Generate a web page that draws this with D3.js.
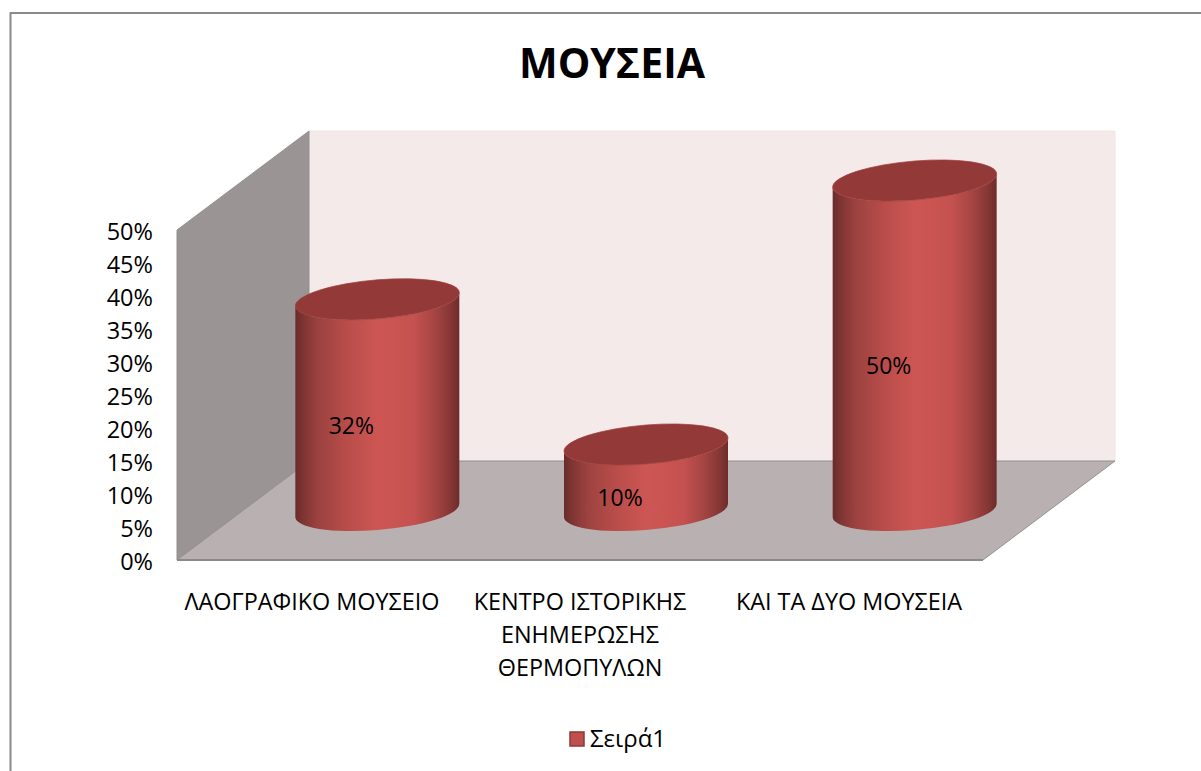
<!DOCTYPE html>
<html><head><meta charset="utf-8">
<script src="https://d3js.org/d3.v7.min.js"></script>
<style>html,body{margin:0;padding:0;background:#fff}svg{display:block}text{font-family:"Open Sans",sans-serif;fill:#000}</style>
</head><body><script>
const categories=[["ΛΑΟΓΡΑΦΙΚΟ ΜΟΥΣΕΙΟ"],["ΚΕΝΤΡΟ ΙΣΤΟΡΙΚΗΣ","ΕΝΗΜΕΡΩΣΗΣ","ΘΕΡΜΟΠΥΛΩΝ"],["ΚΑΙ ΤΑ ΔΥΟ ΜΟΥΣΕΙΑ"]];
const values=[0.32,0.10,0.50];
const valueLabels=["32%","10%","50%"];
const ticks=[0,.05,.10,.15,.20,.25,.30,.35,.40,.45,.50];
const title="ΜΟΥΣΕΙΑ", seriesName="Σειρά1";
const W=1201,H=771,x0=177,x1=983,y0=560,y1=230,dx=132,dy=-99;
const svg=d3.select("body").append("svg").attr("width",W).attr("height",H);
const x=d3.scaleBand().domain(d3.range(3)).range([x0,x1]);
const y=d3.scaleLinear().domain([0,.5]).range([y0,y1]);
const defs=svg.append("defs");
const g=defs.append("linearGradient").attr("id","cyl");
[[0,"#692b2a"],[.05,"#7f3533"],[.14,"#9c4240"],[.32,"#b94d4a"],[.5,"#cd5653"],[.72,"#c55250"],[.85,"#a54543"],[.95,"#843634"],[1,"#6d2c2b"]].forEach(s=>g.append("stop").attr("offset",s[0]).attr("stop-color",s[1]));
const line=d3.line();
// frame
svg.append("path").attr("d","M10.5,771V13H1201").attr("fill","none").attr("stroke","#8a8a8a").attr("stroke-width",2);
// walls
svg.append("path").attr("d",line([[x1+dx,y0+dy],[x1+dx,y1+dy],[x0+dx,y1+dy],[x0+dx,y0+dy]])+"Z").attr("fill","#f5eaea").attr("stroke","#efe6e6");
svg.append("path").attr("d",line([[x0,y0],[x0,y1],[x0+dx,y1+dy],[x0+dx,y0+dy]])+"Z").attr("fill","#9a9594").attr("stroke","#939090");
svg.append("path").attr("d",line([[x0,y0],[x1,y0],[x1+dx,y0+dy],[x0+dx,y0+dy]])+"Z").attr("fill","#b9b1b1").attr("stroke","#929090");
svg.append("path").attr("d",line([[x0,y0],[x1,y0]])).attr("stroke","#8a8a8a").attr("stroke-width",2);
// cylinders
const a=82,b=19.5,shear=-0.08,baseShift=-49.5;
const cyl=svg.selectAll(".c").data(values).join("g").attr("class","c")
 .attr("transform",(d,i)=>`matrix(1,${shear},0,1,${x(i)+x.bandwidth()/2+dx/2},0)`);
cyl.append("path").attr("d",d=>{const t=y(d)+baseShift,bt=y0+baseShift;return `M${-a},${t}V${bt}A${a},${b} 0 0 0 ${a},${bt}V${t}A${a},${b} 0 0 1 ${-a},${t}Z`}).attr("fill","url(#cyl)");
cyl.append("ellipse").attr("rx",a).attr("ry",b).attr("cy",d=>y(d)+baseShift).attr("fill","#933a38").attr("stroke","#9f3f3d").attr("stroke-width",.7);
// data labels
svg.selectAll(".v").data(values).join("text").attr("class","v").attr("text-anchor","middle").attr("font-size",23)
 .attr("x",(d,i)=>x(i)+x.bandwidth()/2+[40,40,40][i]).attr("y",(d,i)=>[434,506,374][i]).text((d,i)=>valueLabels[i]);
// axis
const ax=svg.append("g").attr("transform",`translate(${x0},0)`).call(d3.axisLeft(y).tickValues(ticks).tickFormat(d3.format(".0%")).tickSize(0).tickPadding(24));
ax.select(".domain").remove();
ax.selectAll("text").attr("dy",".42em").style("font-size","23.5px").style("font-family",'"Open Sans",sans-serif').attr("fill","#000");
// categories
const cg=svg.selectAll(".l").data(categories).join("text").attr("class","l").attr("text-anchor","middle").attr("font-size",23.4);
cg.selectAll("tspan").data((d,i)=>d.map(t=>({t,i}))).join("tspan").attr("x",d=>[312,580,849][d.i]).attr("y",(d,j)=>610+j*33).text(d=>d.t);
// title
svg.append("text").attr("x",612).attr("y",78).attr("text-anchor","middle").attr("font-size",41).attr("font-weight",700).text(title);
// legend
svg.append("rect").attr("x",570).attr("y",732).attr("width",14).attr("height",14).attr("fill","#c0504d").attr("stroke","#8c3836").attr("stroke-width",1.5);
svg.append("text").attr("x",590).attr("y",747).attr("font-size",24).text(seriesName);
</script></body></html>
